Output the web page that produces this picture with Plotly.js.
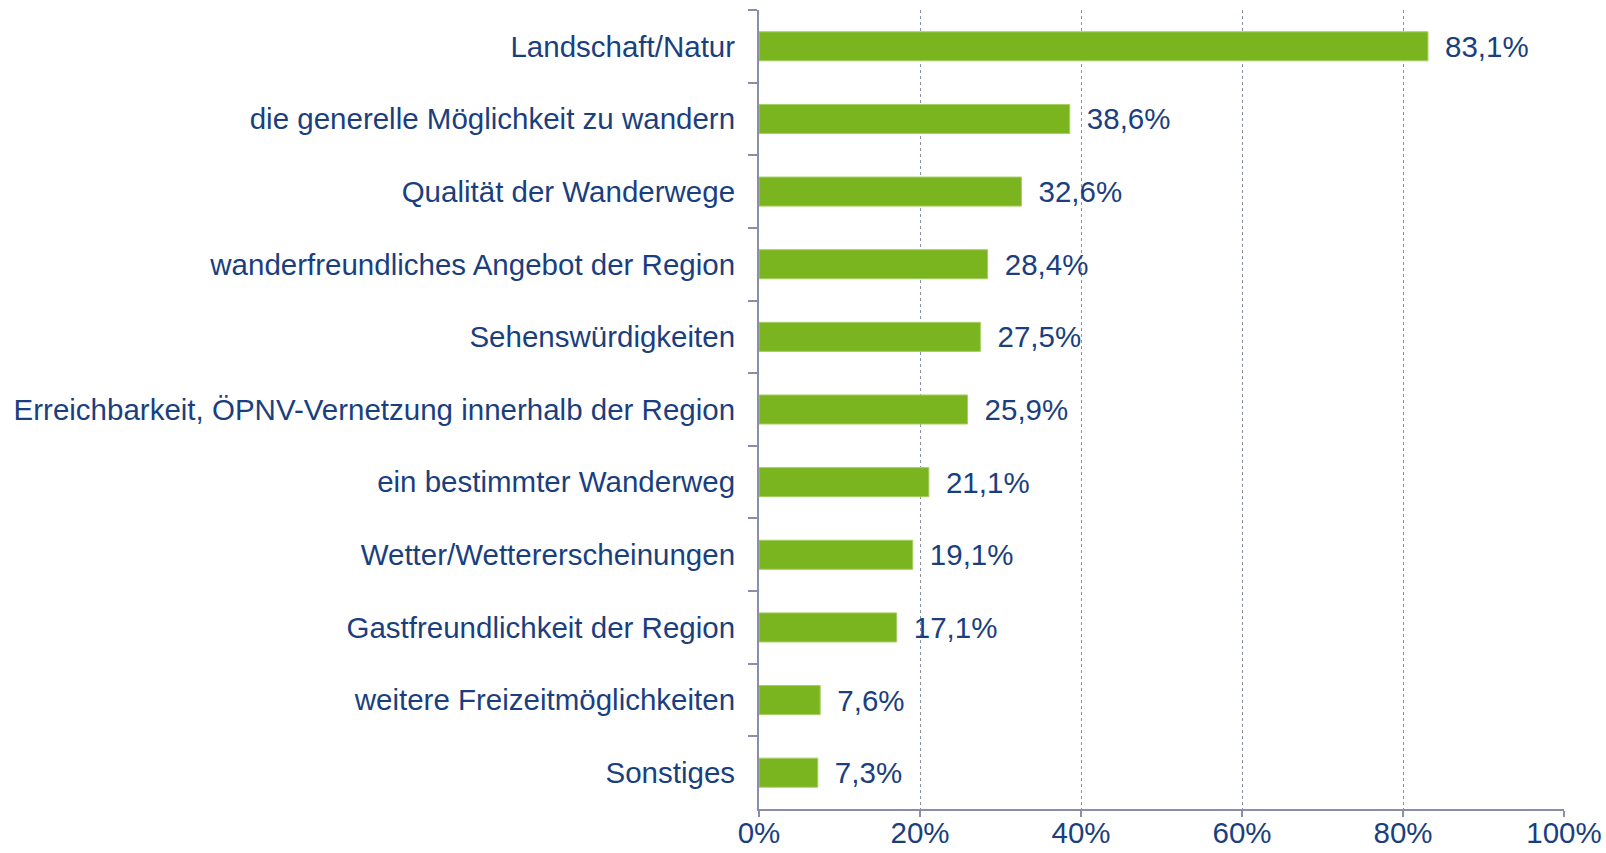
<!DOCTYPE html>
<html><head><meta charset="utf-8">
<script src="https://cdn.plot.ly/plotly-3.0.1.min.js"></script>
<style>html,body{margin:0;padding:0;background:#fff}#chart{width:1606px;height:853px}</style>
</head><body><div id="chart"></div>
<script>
const categories = [
  "Landschaft/Natur",
  "die generelle Möglichkeit zu wandern",
  "Qualität der Wanderwege",
  "wanderfreundliches Angebot der Region",
  "Sehenswürdigkeiten",
  "Erreichbarkeit, ÖPNV-Vernetzung innerhalb der Region",
  "ein bestimmter Wanderweg",
  "Wetter/Wettererscheinungen",
  "Gastfreundlichkeit der Region",
  "weitere Freizeitmöglichkeiten",
  "Sonstiges"
];
const values = [83.1, 38.6, 32.6, 28.4, 27.5, 25.9, 21.1, 19.1, 17.1, 7.6, 7.3];
const xTickValues = [0, 20, 40, 60, 80, 100];
const xTickLabels = ["0%", "20%", "40%", "60%", "80%", "100%"];

const textColor = "#1b3f7e";
const axisColor = "#8a8ea8";
const fam = "'Liberation Sans', Arial, sans-serif";
const fs = 29.5;

Plotly.newPlot("chart", [{
  type: "bar",
  orientation: "h",
  y: categories,
  x: values,
  marker: {color: "#7ab51f", line: {color: "#a6cf62", width: 1}},
  texttemplate: "\u2009 %{x:.1f}%",
  textposition: "outside",
  constraintext: "none",
  cliponaxis: false,
  textfont: {family: fam, size: fs, color: textColor},
  hoverinfo: "skip"
}], {
  width: 1606, height: 853,
  separators: ",.",
  margin: {l: 759, r: 42, t: 10, b: 44},
  paper_bgcolor: "#fff", plot_bgcolor: "#fff",
  showlegend: false,
  bargap: 0.6,
  font: {family: fam, size: fs, color: textColor},
  xaxis: {
    range: [0, 100],
    tickmode: "array",
    tickvals: xTickValues,
    ticktext: xTickLabels,
    showgrid: true, gridcolor: axisColor, griddash: "dot", gridwidth: 1,
    showline: true, linecolor: axisColor, linewidth: 2,
    ticks: "outside", ticklen: 6, tickcolor: axisColor, tickwidth: 2,
    ticklabelstandoff: -9,
    zeroline: false,
    tickfont: {family: fam, size: fs, color: textColor},
    fixedrange: true
  },
  yaxis: {
    type: "category",
    autorange: "reversed",
    showline: true, linecolor: axisColor, linewidth: 2,
    ticks: "outside", tickson: "boundaries", ticklen: 9, tickcolor: axisColor, tickwidth: 2,
    showgrid: false, zeroline: false,
    ticklabelstandoff: 16,
    tickfont: {family: fam, size: fs, color: textColor},
    fixedrange: true
  }
}, {staticPlot: true});
</script>
</body></html>
